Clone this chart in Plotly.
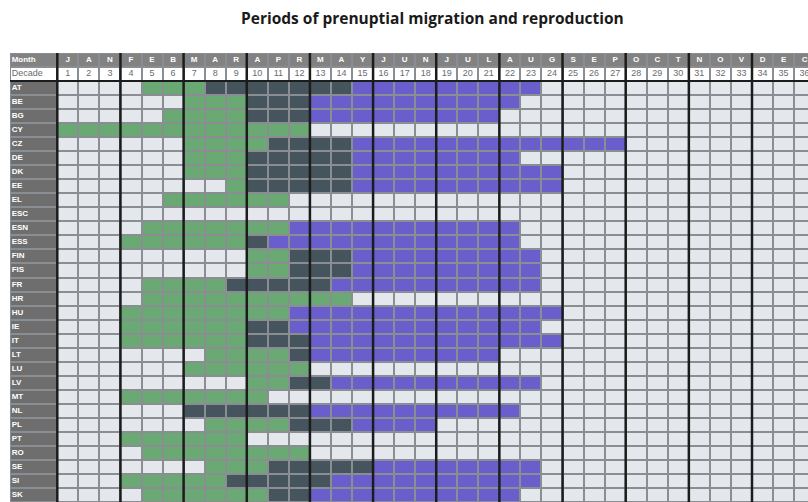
import plotly.graph_objects as go

# Countries (rows, top to bottom)
countries = ["AT", "BE", "BG", "CY", "CZ", "DE", "DK", "EE", "EL", "ESC", "ESN", "ESS",
             "FIN", "FIS", "FR", "HR", "HU", "IE", "IT", "LT", "LU", "LV", "MT", "NL",
             "PL", "PT", "RO", "SE", "SI", "SK"]

# Prenuptial migration period (first and last decade), None = no period
migration_start = [5, 7, 6, 1, 7, 7, 7, 9, 6, None, 5, 4, 10, 10, 5, 5, 4, 4, 4, 8, 7, 10, 4, 7, 8, 4, 5, 8, 4, 5]
migration_end = [14, 12, 12, 12, 14, 14, 14, 14, 11, None, 11, 10, 14, 14, 13, 14, 11, 11, 12, 12, 12, 13, 10, 12, 14, 9, 12, 15, 13, 12]

# Reproduction period (first and last decade), None = no period
reproduction_start = [8, 10, 10, None, 11, 10, 10, 10, None, None, 12, 10, 12, 12, 9, None, 12, 10, 10, 12, None, 12, None, 7, 12, None, None, 11, 9, 11]
reproduction_end = [23, 22, 21, None, 27, 22, 24, 24, None, None, 22, 22, 23, 23, 23, None, 24, 23, 24, 21, None, 23, None, 22, 18, None, None, 23, 23, 22]

# Header: one month letter per decade
month_letters = list("JANFEBMARAPRMAYJUNJULAUGSEPOCTNOVDEC")
decades = list(range(1, 37))

# Cell codes
EMPTY, MIGR, BOTH, REPR, HEAD, WHITE, LABEL = 0, 1, 2, 3, 4, 5, 6
palette = ["#e4e8ed", "#6aa974", "#46545e", "#6a5ecd", "#828282", "#ffffff", "#6e6e6e"]

n_dec = len(decades)
z = []
z.append([HEAD] * (n_dec + 1))          # month row
z.append([WHITE] * (n_dec + 1))         # decade row
for i in range(len(countries)):
    row = [LABEL]
    for d in decades:
        m = migration_start[i] is not None and migration_start[i] <= d <= migration_end[i]
        r = reproduction_start[i] is not None and reproduction_start[i] <= d <= reproduction_end[i]
        row.append(BOTH if (m and r) else MIGR if m else REPR if r else EMPTY)
    z.append(row)

label_left = -1.747
x_edges = [label_left] + [d - 0.5 for d in decades] + [n_dec + 0.5]
y_edges = list(range(-2, len(countries) + 1))

n = len(palette)
colorscale = []
for k, c in enumerate(palette):
    colorscale.append([k / n, c])
    colorscale.append([(k + 1) / n, c])

fig = go.Figure()
fig.add_trace(go.Heatmap(
    z=z, x=x_edges, y=y_edges,
    colorscale=colorscale, zmin=-0.5, zmax=n - 0.5,
    showscale=False, xgap=2, ygap=2, hoverinfo="skip",
))

# Row labels
fig.add_trace(go.Scatter(
    x=[label_left + 0.08] * len(countries),
    y=[i + 0.5 for i in range(len(countries))],
    text=countries, mode="text", textposition="middle right",
    textfont=dict(family="Liberation Sans", size=8, color="white", weight="bold"),
    hoverinfo="skip", showlegend=False,
))
# Header labels in the label column
fig.add_trace(go.Scatter(
    x=[label_left + 0.08], y=[-1.5], text=["Month"], mode="text", textposition="middle right",
    textfont=dict(family="Liberation Sans", size=8, color="white", weight="bold"),
    hoverinfo="skip", showlegend=False,
))
fig.add_trace(go.Scatter(
    x=[label_left + 0.08], y=[-0.5], text=["Decade"], mode="text", textposition="middle right",
    textfont=dict(family="Liberation Sans", size=9, color="#6b6b6b"),
    hoverinfo="skip", showlegend=False,
))
# Month letters
fig.add_trace(go.Scatter(
    x=decades, y=[-1.5] * n_dec, text=month_letters, mode="text",
    textfont=dict(family="Liberation Sans", size=8, color="white", weight="bold"),
    hoverinfo="skip", showlegend=False,
))
# Decade numbers
fig.add_trace(go.Scatter(
    x=decades, y=[-0.5] * n_dec, text=[str(d) for d in decades], mode="text",
    textfont=dict(family="Liberation Sans", size=9, color="#6b6b6b"),
    hoverinfo="skip", showlegend=False,
))

# Month separators and header rule
shapes = []
for k in range(0, n_dec + 1, 3):
    shapes.append(dict(type="line", x0=k + 0.5, x1=k + 0.5, y0=-2, y1=len(countries),
                       line=dict(color="#1c1c1c", width=2.5), layer="above"))
shapes.append(dict(type="line", x0=label_left, x1=n_dec + 0.5, y0=0, y1=0,
                   line=dict(color="#1c1c1c", width=2), layer="above"))

fig.update_layout(
    width=808, height=502,
    margin=dict(l=10, r=0, t=53, b=0),
    paper_bgcolor="white", plot_bgcolor="#8a8e92",
    shapes=shapes,
    xaxis=dict(range=[label_left, 36.16], visible=False, fixedrange=True),
    yaxis=dict(range=[len(countries), -2], visible=False, fixedrange=True),
    annotations=[dict(
        text="Periods of prenuptial migration and reproduction",
        xref="paper", yref="paper", x=0.529, y=1, yshift=35, yanchor="middle",
        showarrow=False,
        font=dict(family="Open Sans", size=15.5, color="#1a1a1a", weight="bold"),
    )],
    showlegend=False,
)

fig.write_html("out.html")
